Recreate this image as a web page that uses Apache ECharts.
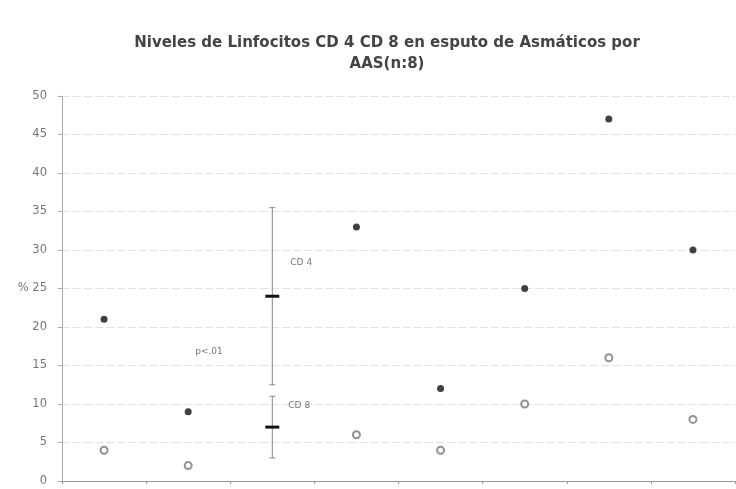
<!DOCTYPE html>
<html>
<head>
<meta charset="utf-8">
<script src="https://cdn.jsdelivr.net/npm/echarts@6/dist/echarts.min.js"></script>
<style>
  html, body { margin: 0; padding: 0; background: #fff; }
  #chart { width: 736px; height: 489px; }
</style>
</head>
<body>
<div id="chart"></div>
<script>
const categories = ["1", "2", "3", "4", "5", "6", "7", "8"];
const cd4 = [21, 9, null, 33, 12, 25, 47, 30];
const cd8 = [4, 2, null, 6, 4, 10, 16, 8];
// [category index, mean, low, high]
const errorBars = [
  [2, 24, 12.5, 35.5],
  [2, 7, 3, 11]
];
// [category index, value, text, pixel nudge]
const notes = [
  [2, 28.3, "CD 4", 18],
  [2, 9.8, "CD 8", 16],
  [1, 16.8, "p<.01", 7]
];

const chart = echarts.init(document.getElementById("chart"));

chart.setOption({
  animation: false,
  backgroundColor: "#fff",
  title: {
    text: "Niveles de Linfocitos CD 4 CD 8 en esputo de Asmáticos por\nAAS(n:8)",
    left: 382,
    textAlign: "center",
    top: 28,
    textStyle: {
      fontFamily: "DejaVu Sans",
      fontSize: 15,
      fontWeight: "bold",
      color: "#444",
      lineHeight: 21
    }
  },
  grid: { left: 62, right: 1, top: 96, bottom: 8 },
  xAxis: {
    type: "category",
    data: categories,
    boundaryGap: true,
    axisLine: { lineStyle: { color: "#999" } },
    axisTick: { show: true, length: 3, lineStyle: { color: "#999" } },
    axisLabel: { show: false }
  },
  yAxis: {
    type: "value",
    min: 0,
    max: 50,
    interval: 5,
    axisLine: { show: true, lineStyle: { color: "#aaa" } },
    axisTick: { show: true, length: 4, lineStyle: { color: "#aaa" } },
    axisLabel: {
      margin: 15,
      color: "#777",
      fontFamily: "DejaVu Sans",
      fontSize: 11.5,
      formatter: v => (v === 25 ? "% 25" : v)
    },
    splitLine: { lineStyle: { color: "#e2e2e2", type: [8, 3] } }
  },
  series: [
    {
      name: "CD 4",
      type: "scatter",
      data: cd4,
      symbol: "circle",
      symbolSize: 7,
      itemStyle: { color: "#111" }
    },
    {
      name: "CD 8",
      type: "scatter",
      data: cd8,
      symbol: "emptyCircle",
      symbolSize: 7,
      itemStyle: { color: "#777", borderWidth: 1 }
    },
    {
      type: "custom",
      data: errorBars,
      renderItem: function (params, api) {
        const mean = api.coord([api.value(0), api.value(1)]);
        const low = api.coord([api.value(0), api.value(2)]);
        const high = api.coord([api.value(0), api.value(3)]);
        const grey = { stroke: "#888", lineWidth: 1 };
        return {
          type: "group",
          children: [
            { type: "line", shape: { x1: low[0], y1: low[1], x2: high[0], y2: high[1] }, style: grey },
            { type: "line", shape: { x1: low[0] - 3, y1: low[1], x2: low[0] + 3, y2: low[1] }, style: grey },
            { type: "line", shape: { x1: high[0] - 3, y1: high[1], x2: high[0] + 3, y2: high[1] }, style: grey },
            { type: "line", shape: { x1: mean[0] - 7, y1: mean[1], x2: mean[0] + 7, y2: mean[1] }, style: { stroke: "#111", lineWidth: 3 } }
          ]
        };
      },
      z: 3
    },
    {
      type: "scatter",
      data: notes.map(n => ({
        value: [n[0], n[1]],
        label: { formatter: n[2], offset: [n[3], 0] }
      })),
      symbolSize: 0,
      silent: true,
      label: {
        show: true,
        position: "right",
        distance: 0,
        color: "#555",
        fontFamily: "DejaVu Sans",
        fontSize: 9
      }
    }
  ]
});
</script>
</body>
</html>
